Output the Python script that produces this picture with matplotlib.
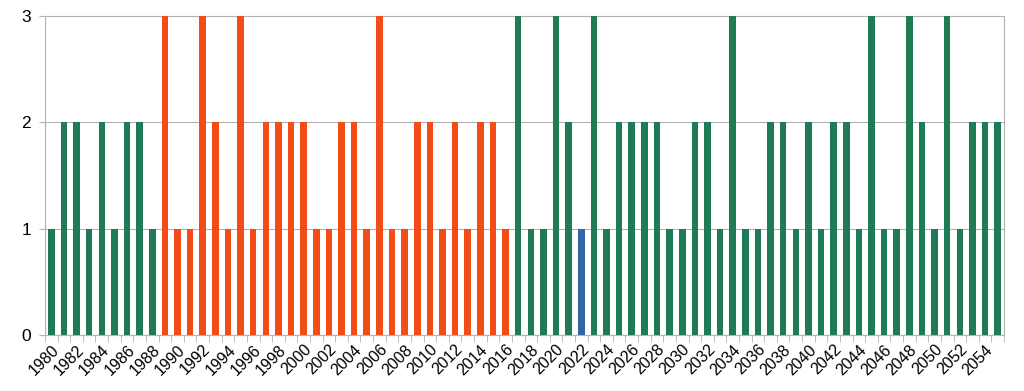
import matplotlib
matplotlib.use("Agg")
import matplotlib.pyplot as plt
from matplotlib.ticker import FixedLocator, NullFormatter

years = list(range(1980, 2056))
values = [1, 2, 2, 1, 2, 1, 2, 2, 1,
          3, 1, 1, 3, 2, 1, 3, 1, 2, 2, 2, 2, 1, 1, 2, 2, 1, 3, 1, 1, 2, 2, 1, 2, 1, 2, 2, 1,
          3, 1, 1, 3, 2, 1, 3, 1, 2, 2, 2, 2, 1, 1, 2, 2, 1, 3, 1, 1, 2, 2, 1, 2, 1, 2, 2, 1,
          3, 1, 1, 3, 2, 1, 3, 1, 2, 2, 2]
orange_years = list(range(1989, 2017))
blue_years = [2022]

GREEN = "#1e7b55"
ORANGE = "#f24c18"
BLUE = "#3465a4"

colors = []
for y in years:
    if y in blue_years:
        colors.append(BLUE)
    elif y in orange_years:
        colors.append(ORANGE)
    else:
        colors.append(GREEN)

plt.rcParams['font.family'] = ['Liberation Sans', 'DejaVu Sans']
fig = plt.figure(figsize=(10.24, 3.91), dpi=100)
ax = fig.add_axes([45/1024, 56/391, (1004-45)/1024, (335-16)/391])

x = list(range(len(years)))
ax.bar(x, values, width=0.52, color=colors, zorder=3)

ax.set_xlim(-0.5, len(years) - 0.5)
ax.set_ylim(0, 3)
ax.set_yticks([0, 1, 2, 3])
ax.yaxis.grid(True, color="#b3b3b3", linewidth=0.8, zorder=0)
ax.tick_params(axis='y', length=4, color="#b3b3b3", labelsize=12.5, pad=6)

ax.set_xticks(x[::2])
ax.set_xticklabels([str(y) for y in years[::2]], rotation=45, ha='right',
                   rotation_mode='anchor', fontsize=11.5)
ax.tick_params(axis='x', which='major', length=0, pad=5)
ax.xaxis.set_minor_locator(FixedLocator([i - 0.5 for i in range(len(years) + 1)]))
ax.xaxis.set_minor_formatter(NullFormatter())
ax.tick_params(axis='x', which='minor', length=5, color="#b3b3b3")

for s in ax.spines.values():
    s.set_color("#b3b3b3")
    s.set_linewidth(0.8)

fig.savefig("out.png", dpi=100)
